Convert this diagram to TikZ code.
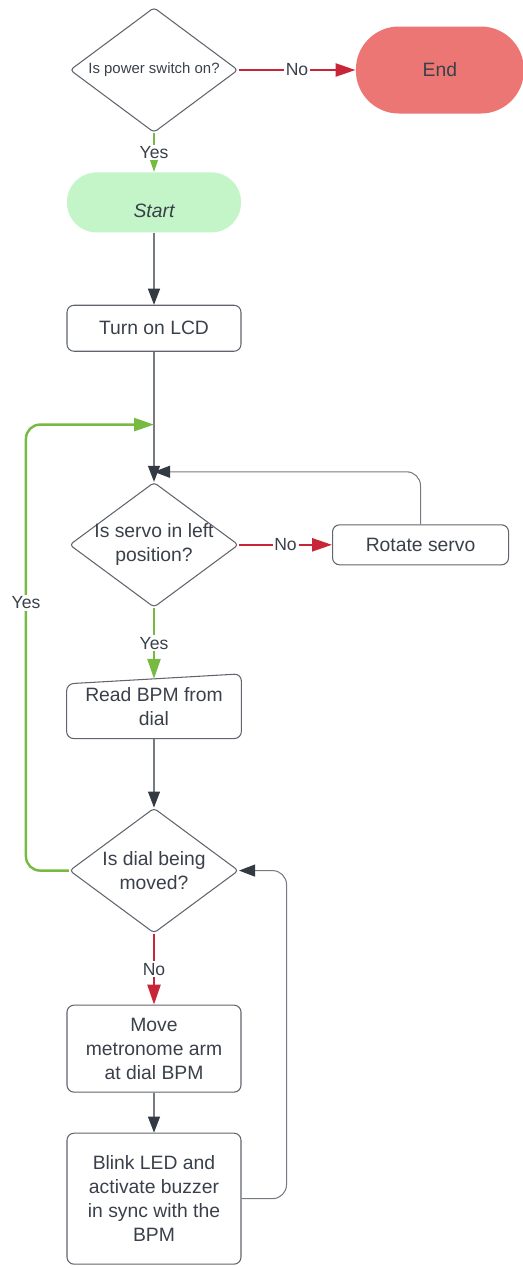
\documentclass[tikz,border=0pt]{standalone}
\usepackage{fontspec}
\setmainfont{Liberation Sans}
\usepackage{xcolor}
\usetikzlibrary{shapes.geometric, arrows.meta, positioning}
\definecolor{cText}{RGB}{58,64,74}
\definecolor{cBorder}{RGB}{96,100,108}
\definecolor{cLine}{RGB}{118,122,130}
\definecolor{cTip}{RGB}{52,58,68}
\definecolor{cYes}{RGB}{118,186,66}
\definecolor{cNo}{RGB}{200,38,56}
\definecolor{cEnd}{RGB}{236,118,116}
\definecolor{cStart}{RGB}{196,245,200}
\tikzset{
	process/.style  ={rectangle, rounded corners=4pt, minimum width=3.48cm, align=center, draw=cBorder, line width=0.6pt, text=cText},
	decision/.style ={diamond, aspect=1.35, rounded corners=2pt, minimum width=3.38cm, minimum height=2.5cm, inner sep=-2pt, align=center, draw=cBorder, line width=0.6pt, text=cText},
	startstop/.style={rectangle, minimum width=3.48cm, align=center, text=cText},
	flow/.style     ={cLine, line width=0.6pt, -{Triangle[length=0.32cm, width=0.24cm, color=cTip]}},
	yesflow/.style  ={cYes, line width=1.4pt, -{Triangle[length=0.4cm, width=0.26cm]}},
	noflow/.style   ={cNo, line width=1.4pt, -{Triangle[length=0.4cm, width=0.26cm]}},
	lbl/.style      ={fill=white, text=cText, inner sep=1pt, font=\fontsize{10}{12}\selectfont},
}
\begin{document}
\begin{tikzpicture}[font=\fontsize{11}{13.6}\selectfont]
	\useasboundingbox (0,0) rectangle (10.46,-25.36);
	\node[decision, minimum width=3.36cm, font=\fontsize{8.5}{10}\selectfont] (pwr) at (3.08,-1.40) {Is power switch on?};
	\node[startstop, fill=cEnd, minimum width=3.36cm, minimum height=1.74cm, rounded corners=0.86cm, right=2.34cm of pwr] (end) {End};
	\node[startstop, fill=cStart, minimum height=1.2cm, rounded corners=0.59cm, text height=0.65cm, text depth=0.05cm, below=0.78cm of pwr] (start) {\itshape Start};
	\node[process, minimum height=0.92cm, below=1.44cm of start] (lcd) {Turn on LCD};
	\node[decision, below=2.60cm of lcd] (servo) {Is servo in left\\position?};
	\node[process, minimum width=3.52cm, minimum height=0.8cm, right=1.86cm of servo] (rot) {Rotate servo};
	\node[startstop, minimum height=1.28cm, below=1.32cm of servo] (read) {Read BPM from\\dial};
	\draw[cBorder, line width=0.6pt, rounded corners=4pt] ([yshift=-0.2cm]read.north west) -- (read.north east) -- (read.south east) -- (read.south west) -- cycle;
	\node[decision, below=1.38cm of read] (dial) {Is dial being\\moved?};
	\node[process, minimum height=1.74cm, below=1.42cm of dial] (move) {Move\\metronome arm\\at dial BPM};
	\node[process, minimum height=2.62cm, below=0.80cm of move] (blink) {Blink LED and\\activate buzzer\\in sync with the\\BPM};
	% main flow
	\draw[noflow] (pwr) -- node[lbl] {No} (end);
	\draw[yesflow] (pwr) -- node[lbl] {Yes} (start);
	\draw[flow] (start) -- (lcd);
	\draw[flow] (lcd) -- coordinate[pos=0.56] (join) (servo);
	\draw[noflow] (servo) -- node[lbl] {No} (rot);
	\draw[flow, rounded corners=8pt] (rot.north) |- ([yshift=0.2cm]servo.north);
	\draw[yesflow] (servo) -- node[lbl] {Yes} ([yshift=-0.1cm]read.north);
	\draw[flow] (read) -- (dial);
	\draw[noflow] (dial) -- node[lbl] {No} (move);
	\draw[flow] (move) -- (blink);
	% loops back
	\draw[flow, rounded corners=8pt] (blink.east) -- ++(0.9,0) |- (dial.east);
	\draw[yesflow, rounded corners=8pt] (dial.west) -- ++(-0.86,0) |- node[lbl, pos=0.3] {Yes} (join);
\end{tikzpicture}
\end{document}
